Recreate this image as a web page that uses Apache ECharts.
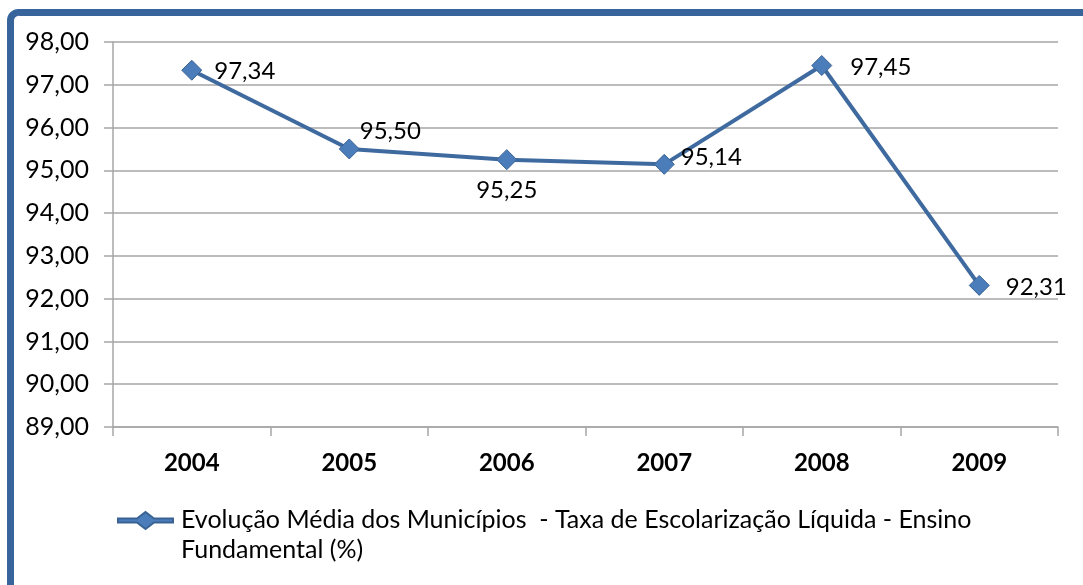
<!DOCTYPE html>
<html>
<head>
<meta charset="utf-8">
<script src="https://cdn.jsdelivr.net/npm/echarts@6/dist/echarts.min.js"></script>
<style>
  html, body { margin: 0; padding: 0; background: #ffffff; }
  #chart { width: 1083px; height: 585px; }
</style>
</head>
<body>
<div id="chart"></div>
<script>
const years = ["2004", "2005", "2006", "2007", "2008", "2009"];
const taxa = [97.34, 95.50, 95.25, 95.14, 97.45, 92.31];
const yTicks = ["89,00", "90,00", "91,00", "92,00", "93,00", "94,00", "95,00", "96,00", "97,00", "98,00"];
const seriesName = "Evolução Média dos Municípios - Taxa de Escolarização Líquida - Ensino Fundamental (%)";

// label placement per point, as in the original spreadsheet chart
const labelPlace = [
  { position: "right", distance: 12, offset: [0, 1] },
  { position: "right", distance: 0, offset: [0, -18] },
  { position: "bottom", distance: 8 },
  { position: "right", distance: 6, offset: [0, -7] },
  { position: "right", distance: 18, offset: [0, 2] },
  { position: "right", distance: 16, offset: [0, 2] },
];

const fmt = (v) => v.toFixed(2).replace(".", ",");
const font = "Lato, 'Open Sans', sans-serif";

// legend icon: line + diamond in the top part, an empty point at y=46 keeps it there
const legendIcon = "path://M0,6.5 L19,6.5 L27.5,0 L36,6.5 L55,6.5 L55,10.5 L36,10.5 L27.5,17 L19,10.5 L0,10.5 Z M0,46 L0,46";

const chart = echarts.init(document.getElementById("chart"), null, { renderer: "canvas" });
chart.setOption({
  backgroundColor: "#ffffff",
  animation: false,
  graphic: [
    {
      type: "rect",
      shape: { x: 10.5, y: 12.5, width: 1300, height: 800, r: 8 },
      style: { fill: "none", stroke: "#36649b", lineWidth: 7 },
      z: 100,
    },
  ],
  grid: { left: 113, right: 25, top: 42, bottom: 158 },
  legend: {
    left: 112,
    top: 500,
    itemWidth: 55,
    itemHeight: 46,
    icon: legendIcon,
    formatter: () => "Evolução Média dos Municípios  - Taxa de Escolarização Líquida - Ensino\nFundamental (%)",
    textStyle: { color: "#000", fontSize: 25, fontFamily: font, lineHeight: 30, padding: [0, 0, 0, 3] },
  },
  xAxis: {
    type: "category",
    data: years,
    boundaryGap: true,
    axisLine: { show: true, lineStyle: { color: "#a6a6a6", width: 1.5 } },
    axisTick: { show: true, length: 9, lineStyle: { color: "#a6a6a6", width: 1.5 } },
    axisLabel: { color: "#000", fontSize: 24, fontWeight: "bold", fontFamily: font, margin: 24 },
  },
  yAxis: {
    type: "value",
    min: 89,
    max: 98,
    interval: 1,
    axisLine: { show: true, lineStyle: { color: "#a6a6a6", width: 1.5 } },
    axisTick: { show: true, length: 9, lineStyle: { color: "#a6a6a6", width: 1.5 } },
    splitLine: { lineStyle: { color: "#a6a6a6", width: 1.5 } },
    axisLabel: {
      color: "#000",
      fontSize: 25,
      fontFamily: font,
      margin: 24,
      formatter: (v) => yTicks[Math.round(v - 89)],
    },
  },
  series: [
    {
      name: seriesName,
      type: "line",
      data: taxa.map((v, i) => ({
        value: v,
        label: Object.assign({ show: true }, labelPlace[i]),
      })),
      lineStyle: { color: "#3e6a9f", width: 4 },
      symbol: "diamond",
      symbolSize: 20,
      itemStyle: { color: "#4a7dba", borderColor: "#3a6393", borderWidth: 1 },
      label: {
        show: true,
        color: "#000",
        fontSize: 24,
        fontFamily: font,
        formatter: (p) => fmt(p.value),
      },
    },
  ],
});
</script>
</body>
</html>
